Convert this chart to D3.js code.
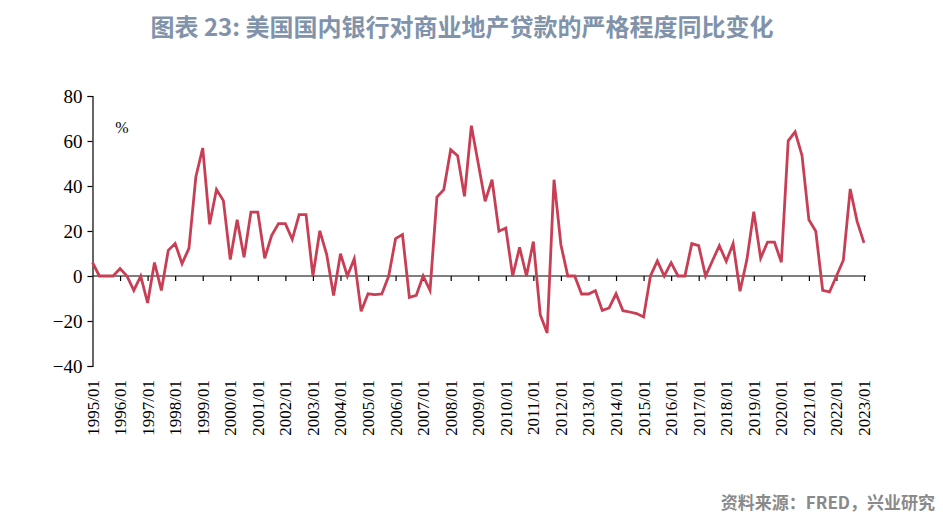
<!DOCTYPE html>
<html><head><meta charset="utf-8">
<script src="https://cdn.jsdelivr.net/npm/d3@7"></script>
<style>body{margin:0;background:#fff;}svg{display:block;}
.serif{font-family:"Liberation Serif","Times New Roman","DejaVu Serif",serif !important;}
</style>
</head><body>
<svg id="c" width="943" height="519"></svg>
<script>
const startYear = 1995;
const endYear = 2023;
const values = [
  6, 0, 0, 0,
  3.3, 0, -6.4, 0,
  -12, 6, -6.4, 11.4,
  14.4, 5.5, 12.3, 44,
  56.9, 23, 38.4, 33.5,
  7.3, 25, 8.3, 28.4,
  28.4, 7.9, 18, 23.3,
  23.3, 16.3, 27.3, 27.3,
  0, 20.1, 9.5, -8.7,
  9.9, 0, 7.7, -15.7,
  -7.9, -8.3, -8, 0,
  16.6, 18.4, -9.5, -8.6,
  0, -6.4, 35.1, 38.4,
  56.1, 53.5, 35.4, 66.8,
  50, 33.2, 42.8, 19.9,
  21.3, 0, 12.7, 0,
  15.3, -17.2, -25.3, 42.8,
  13.9, 0, 0, -8,
  -8, -6.5, -15.3, -14.2,
  -7.9, -15.4, -16, -16.7,
  -18.2, 0, 6.7, 0,
  5.9, 0, 0, 14.4,
  13.5, 0, 6.8, 13.5,
  6.5, 14.4, -6.8, 7.3,
  28.6, 7.9, 15.1, 15.1,
  6.1, 60.1, 64.1, 53.6,
  25, 19.9, -6.4, -7.1,
  0, 7, 38.7, 24.3,
  14.7
];
const yTicks = [-40, -20, 0, 20, 40, 60, 80];
const yearTicks = d3.range(startYear, endYear + 1);
const title = "图表 23: 美国国内银行对商业地产贷款的严格程度同比变化";
const source = "资料来源：FRED，兴业研究";
const unit = "%";

const svg = d3.select("#c");
const x = d3.scaleLinear().domain([startYear, endYear]).range([92.5, 864]);
const y = d3.scaleLinear().domain([-40, 80]).range([366, 96]);
const t = i => startYear + i / 4;

svg.append("text").attr("x", 462).attr("y", 36).attr("text-anchor", "middle")
  .attr("font-family", "'Noto Sans CJK SC'").attr("font-weight", "bold")
  .attr("font-size", 24).attr("fill", "#8093ab").text(title);

// y axis
const ya = svg.append("g").attr("transform", `translate(${x(startYear)},0)`)
  .call(d3.axisLeft(y).tickValues(yTicks).tickSize(5).tickPadding(5).tickFormat(d3.format("d")));
ya.attr("font-family", null).attr("font-size", null);
ya.select(".domain").attr("stroke", "#000").attr("stroke-width", 1.2);
ya.selectAll(".tick line").attr("stroke", "#000").attr("stroke-width", 1.2);
ya.selectAll("text").attr("class", "serif").style("font-size", "19px").attr("fill", "#000");

// x axis at zero
const xa = svg.append("g").attr("transform", `translate(0,${y(0)})`)
  .call(d3.axisBottom(x).tickValues(yearTicks.slice(1)).tickSize(5).tickFormat(""));
xa.select(".domain").attr("stroke", "#000").attr("stroke-width", 1.2).attr("d", `M${x(startYear)},0H${x(endYear)+2}`);
xa.selectAll(".tick line").attr("stroke", "#000").attr("stroke-width", 1.2);

// x labels at bottom
svg.append("g").selectAll("text").data(yearTicks).join("text")
  .attr("class", "serif")
  .attr("transform", d => `translate(${x(d)+6},380) rotate(-90)`)
  .attr("text-anchor", "end")
  .style("font-size", "17px").attr("fill", "#000")
  .text(d => d + "/01");

svg.append("text").attr("class", "serif").attr("x", 122).attr("y", 133).attr("text-anchor", "middle")
  .style("font-size", "16px").text(unit);

const line = d3.line().x((d, i) => x(t(i))).y(d => y(d));
svg.append("path").datum(values).attr("d", line).attr("fill", "none")
  .attr("stroke", "#c83f55").attr("stroke-width", 2.8).attr("stroke-linejoin", "miter");

svg.append("text").attr("x", 935).attr("y", 509).attr("text-anchor", "end")
  .attr("font-family", "'Noto Sans CJK SC'").attr("font-weight", "bold")
  .attr("font-size", 17).attr("fill", "#8a8a8a").text(source);
</script>
</body></html>
